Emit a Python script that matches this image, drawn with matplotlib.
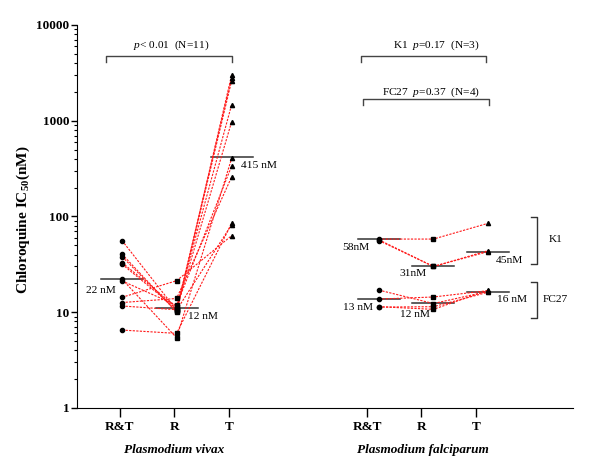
import numpy as np
import matplotlib
matplotlib.use("Agg")
import matplotlib.pyplot as plt
from matplotlib.ticker import LogLocator, NullFormatter, FixedLocator

plt.rcParams['font.family'] = ['Liberation Serif', 'DejaVu Serif']
plt.rcParams['mathtext.fontset'] = 'custom'
plt.rcParams['mathtext.rm'] = 'Liberation Serif'
plt.rcParams['mathtext.it'] = 'Liberation Serif:italic'
plt.rcParams['mathtext.bf'] = 'Liberation Serif:bold'

# ---- data ----
stages = ['R&T', 'R', 'T']

# P. vivax, one entry per patient (N=11)
vivax_rt = [55.9, 40.3, 38.0, 32.9, 31.7, 22.1, 21.2, 14.3, 12.6, 11.6, 6.5]
vivax_r = [10.5, 10.0, 10.2, 11.3, 10.8, 5.4, 11.8, 21.3, 13.9, 10.6, 6.0]
vivax_t = [82, 3006, 2620, 1471, 977, 405, 337, 63, 259, 2800, 85]
vivax_medians = [22, 11, 415]
vivax_labels = ['22 nM', '12 nM', '415 nM']

# P. falciparum K1 (N=3)
k1_rt = [58, 57, 56]
k1_r = [58, 30, 30]
k1_t = [85, 44, 43]
k1_medians = [58, 30, 43]
k1_labels = ['58nM', '31nM', '45nM']

# P. falciparum FC27 (N=4)
fc27_rt = [17.0, 13.7, 11.3, 11.4]
fc27_r = [12.3, 14.4, 11.4, 10.7]
fc27_t = [16.5, 16.8, 16.2, 17.0]
fc27_medians = [13.7, 12.4, 16.4]
fc27_labels = ['13 nM', '12 nM', '16 nM']

# ---- layout ----
tick_x_viv = [1, 2, 3]
tick_x_fal = [5.54, 6.53, 7.54]
pt_x_viv = [1.04, 2.04, 3.05]
pt_x_fal = [5.75, 6.75, 7.76]
markers = ['o', 's', '^']
half = 0.385

fig = plt.figure(figsize=(6, 4.71), dpi=100)
ax = fig.add_axes([0.128, 0.134, 0.827, 0.813])
ax.set_yscale('log')
ax.set_xlim(0.21, 9.31)
ax.set_ylim(1, 10000)


def draw_group(xs, rt, r, t):
    for a, b, c in zip(rt, r, t):
        ax.plot(xs, [a, b, c], color='#ff1a1a', ls=(0, (2, 1.2)), lw=0.8, zorder=2)
    for x, vals, m in zip(xs, [rt, r, t], markers):
        ax.plot([x] * len(vals), vals, ls='none', marker=m, color='black',
                ms=3.0, zorder=3)


def draw_medians(xs, meds):
    for x, m in zip(xs, meds):
        ax.plot([x - half, x + half], [m, m], color='#333333', lw=1.1, zorder=1)


draw_group(pt_x_viv, vivax_rt, vivax_r, vivax_t)
draw_group(pt_x_fal, k1_rt, k1_r, k1_t)
draw_group(pt_x_fal, fc27_rt, fc27_r, fc27_t)
draw_medians(pt_x_viv, vivax_medians)
draw_medians(pt_x_fal, k1_medians)
draw_medians(pt_x_fal, fc27_medians)

fs = 8.2
# median labels
label_pos = [(0.651, 16.8), (2.53, 9.0), (3.547, 339)]
for (x, y), s in zip(label_pos, vivax_labels):
    ax.text(x, y, s, ha='center', va='center', fontsize=fs)
label_pos = [(5.32, 47.2), (6.367, 25.1), (8.15, 34.3)]
for (x, y), s in zip(label_pos, k1_labels):
    ax.text(x, y, s, ha='center', va='center', fontsize=fs)
label_pos = [(5.358, 11.2), (6.41, 9.5), (8.20, 13.4)]
for (x, y), s in zip(label_pos, fc27_labels):
    ax.text(x, y, s, ha='center', va='center', fontsize=fs)

# significance brackets on top
def top_bracket(x0, x1, y, ydrop):
    ax.plot([x0, x0, x1, x1], [ydrop, y, y, ydrop], color='#444444', lw=1)

top_bracket(0.743, 3.055, 4745, 4140)
ax.text(1.936, 6180, r'$p$< 0.01  (N=11)', ha='center', va='center', fontsize=fs)
top_bracket(5.42, 7.72, 4745, 4140)
ax.text(6.795, 6180, r'K1  $p$=0.17  (N=3)', ha='center', va='center', fontsize=fs)
top_bracket(5.459, 7.771, 1675, 1460)
ax.text(6.70, 1963, r'FC27  $p$=0.37  (N=4)', ha='center', va='center', fontsize=fs)

# strain brackets on the right
def side_bracket(y0, y1):
    ax.plot([8.547, 8.657, 8.657, 8.547], [y0, y0, y1, y1], color='#333333', lw=1)

side_bracket(99.5, 31.7)
ax.text(8.99, 56.9, 'K1', ha='center', va='center', fontsize=fs)
side_bracket(20.8, 8.77)
ax.text(8.98, 13.7, 'FC27', ha='center', va='center', fontsize=fs)

# axes styling
ax.spines['top'].set_visible(False)
ax.spines['right'].set_visible(False)
ax.xaxis.set_major_locator(FixedLocator(tick_x_viv + tick_x_fal))
ax.set_xticklabels(stages + stages, fontsize=9.5, fontweight='bold')
ax.tick_params(axis='x', length=6.5, width=1, pad=3)
ax.yaxis.set_minor_locator(LogLocator(base=10, subs=np.arange(2, 10), numticks=20))
ax.yaxis.set_minor_formatter(NullFormatter())
ax.set_yticks([1, 10, 100, 1000, 10000])
ax.set_yticklabels(['1', '10', '100', '1000', '10000'], fontsize=9.5, fontweight='bold')
ax.tick_params(axis='y', which='major', length=4, width=1, pad=1.5)
ax.tick_params(axis='y', which='minor', length=2.2, width=0.8)

ax.set_ylabel(r'Chloroquine IC$_{\mathbf{50}}$(nM)', fontsize=11, fontweight='bold')
ax.yaxis.set_label_coords(-0.09, 0.49)

ax.text(1.99, -0.111, 'Plasmodium vivax', transform=ax.get_xaxis_transform(),
        ha='center', va='center', fontsize=9.5, fontweight='bold', style='italic')
ax.text(6.56, -0.111, 'Plasmodium falciparum', transform=ax.get_xaxis_transform(),
        ha='center', va='center', fontsize=9.5, fontweight='bold', style='italic')

fig.savefig('out.png', dpi=100)
